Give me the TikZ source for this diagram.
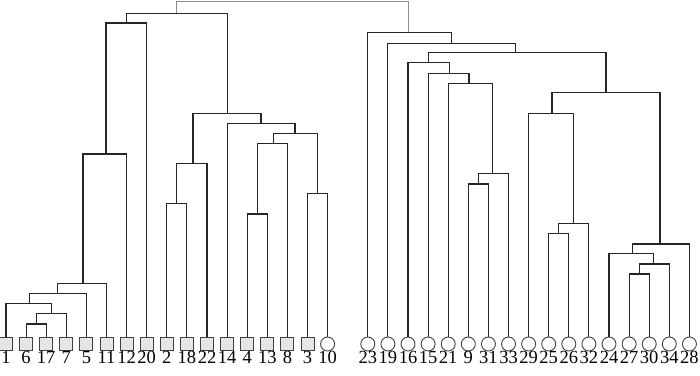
\documentclass[tikz,border=0pt]{standalone}
\usepackage{fontspec}
\setmainfont{Liberation Serif}
\usepackage{xcolor}
\usepackage{tikz}
\usetikzlibrary{positioning}

\begin{document}
\begin{tikzpicture}[x=1pt, y=-1pt,
    link/.style={draw=black!85, line width=1.1pt},
    rootlink/.style={draw=black!45, line width=1.1pt},
    sq/.style={draw=black!75, fill=black!10, line width=0.9pt, minimum size=13pt, inner sep=0pt, label distance=4.8pt},
    rnd/.style={draw=black!75, circle, line width=0.9pt, minimum size=14pt, inner sep=0pt, label distance=4.5pt},
    lab/.style={inner sep=0pt, font=\fontsize{18.5}{20}\selectfont}]
    \useasboundingbox (0,0) rectangle (700,375);

    % Leaves
    \foreach \k/\n in {0/1,1/6,2/17,3/7,4/5,5/11,6/12,7/20,8/2,9/18,10/22,11/14,12/4,13/13,14/8,15/3}
        \node[sq, label={[lab]below:\n}] (n\n) at (6+20.1*\k, 344) {};
    \foreach \k/\n in {16/10,18/23,19/19,20/16,21/15,22/21,23/9,24/31,25/33,26/29,27/25,28/26,29/32,30/24,31/27,32/30,33/34,34/28}
        \node[rnd, label={[lab]below:\n}] (n\n) at (6+20.1*\k, 344) {};

    % Left cluster, first branch
    \coordinate (L1) at (36.2,324);
    \coordinate (L2) at (51.2,313.5);
    \coordinate (L3) at (29.5,303.5);
    \coordinate (L4) at (57.5,293.5);
    \coordinate (L5) at (83,283.5);
    \coordinate (L6) at (106,154);
    \coordinate (L7) at (126.6,23);
    \draw[link] (n6) |- (L1) -| (n17);
    \draw[link] (L1) |- (L2) -| (n7);
    \draw[link] (n1) |- (L3) -| (L2);
    \draw[link] (L3) |- (L4) -| (n5);
    \draw[link] (L4) |- (L5) -| (n11);
    \draw[link] (L5) |- (L6) -| (n12);
    \draw[link] (L6) |- (L7) -| (n20);

    % Left cluster, second branch
    \coordinate (M1) at (176.9,203.5);
    \coordinate (M2) at (193,163.5);
    \coordinate (N1) at (257.3,214);
    \coordinate (N2) at (273.5,143.5);
    \coordinate (N3) at (317.6,193.5);
    \coordinate (N4) at (295,133.7);
    \coordinate (N5) at (261,123.7);
    \coordinate (M3) at (227.1,113.3);
    \draw[link] (n2) |- (M1) -| (n18);
    \draw[link] (M1) |- (M2) -| (n22);
    \draw[link] (n4) |- (N1) -| (n13);
    \draw[link] (N1) |- (N2) -| (n8);
    \draw[link] (n3) |- (N3) -| (n10);
    \draw[link] (N2) |- (N4) -| (N3);
    \draw[link] (n14) |- (N5) -| (N4);
    \draw[link] (M2) |- (M3) -| (N5);

    % Left top
    \coordinate (LT) at (176.8,13.3);
    \draw[link] (L7) |- (LT) -| (M3);

    % Right cluster, lower part
    \coordinate (R1) at (639.2,274);
    \coordinate (R2) at (653.5,264);
    \coordinate (R3) at (632.5,253.5);
    \coordinate (R4) at (660,244);
    \coordinate (A1) at (558.8,233.3);
    \coordinate (A2) at (573.5,223.3);
    \coordinate (A3) at (552,113.3);
    \coordinate (C) at (606,92.7);
    \draw[link] (n27) |- (R1) -| (n30);
    \draw[link] (R1) |- (R2) -| (n34);
    \draw[link] (n24) |- (R3) -| (R2);
    \draw[link] (R3) |- (R4) -| (n28);
    \draw[link] (n25) |- (A1) -| (n26);
    \draw[link] (A1) |- (A2) -| (n32);
    \draw[link] (n29) |- (A3) -| (A2);
    \draw[link] (A3) |- (C) -| (R4);

    % Right cluster, upper part
    \coordinate (D1) at (478.4,184);
    \coordinate (D2) at (492.8,173.3);
    \coordinate (E) at (469,83.3);
    \coordinate (F) at (449.2,73.3);
    \coordinate (G) at (428.7,62.3);
    \coordinate (H) at (515.5,52.7);
    \coordinate (I) at (451.5,43.3);
    \coordinate (J) at (408.5,32.3);
    \draw[link] (n9) |- (D1) -| (n31);
    \draw[link] (D1) |- (D2) -| (n33);
    \draw[link] (n21) |- (E) -| (D2);
    \draw[link] (n15) |- (F) -| (E);
    \draw[link] (n16) |- (G) -| (F);
    \draw[link] (G) |- (H) -| (C);
    \draw[link] (n19) |- (I) -| (H);
    \draw[link] (n23) |- (J) -| (I);

    % Root
    \coordinate (root) at (292,1.2);
    \draw[rootlink] (LT) |- (root) -| (J);
\end{tikzpicture}
\end{document}
